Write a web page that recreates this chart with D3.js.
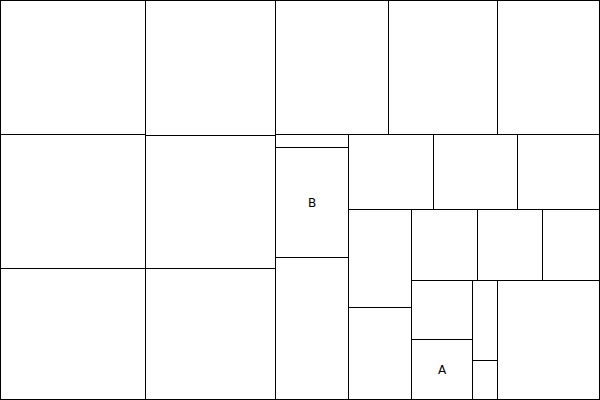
<!DOCTYPE html>
<html>
<head>
<meta charset="utf-8">
<script src="https://cdn.jsdelivr.net/npm/d3@7"></script>
<style>
  html, body { margin: 0; padding: 0; background: #fff; }
  svg { display: block; }
</style>
</head>
<body>
<svg id="chart" width="600" height="400"></svg>
<script>
// Leaf values in layout order (unsorted)
const values = [
  19430, 19430, 19140,
  17550, 17290, 17160,
  15142, 14606, 13802,
  949, 8030, 10439,
  6375, 6300, 6225,
  6174, 5859,
  4686, 4615, 4118,
  3599, 3721,
  2000, 1000,
  12360
];
// Labels for leaves (empty = no label)
const labels = [
  "", "", "",
  "", "", "",
  "", "", "",
  "", "B", "",
  "", "", "",
  "", "",
  "", "", "",
  "", "A",
  "", "",
  ""
];

const width = 600, height = 400;
const svg = d3.select("#chart");

const data = { children: values.map((v, i) => ({ name: labels[i], value: v })) };
const root = d3.hierarchy(data).sum(d => d.value || 0);

d3.treemap()
  .tile(d3.treemapSquarify.ratio(1))
  .size([width, height])
  .round(true)(root);

const g = svg.append("g").attr("transform", "translate(0.5,0.5)");

const cell = g.selectAll("g.cell")
  .data(root.leaves())
  .join("g")
  .attr("class", "cell");

cell.append("rect")
  .attr("x", d => d.x0)
  .attr("y", d => d.y0)
  .attr("width", d => d.x1 - d.x0)
  .attr("height", d => d.y1 - d.y0)
  .attr("fill", "#fff")
  .attr("stroke", "#000")
  .attr("stroke-width", 1);

// outer frame kept inside the canvas
g.append("rect")
  .attr("x", 0)
  .attr("y", 0)
  .attr("width", width - 1)
  .attr("height", height - 1)
  .attr("fill", "none")
  .attr("stroke", "#000")
  .attr("stroke-width", 1);

cell.filter(d => d.data.name)
  .append("text")
  .attr("x", d => (d.x0 + d.x1) / 2)
  .attr("y", d => (d.y0 + d.y1) / 2)
  .attr("text-anchor", "middle")
  .attr("dominant-baseline", "central")
  .attr("font-family", "DejaVu Sans, sans-serif")
  .attr("font-size", 12)
  .attr("fill", "#000")
  .text(d => d.data.name);
</script>
</body>
</html>
